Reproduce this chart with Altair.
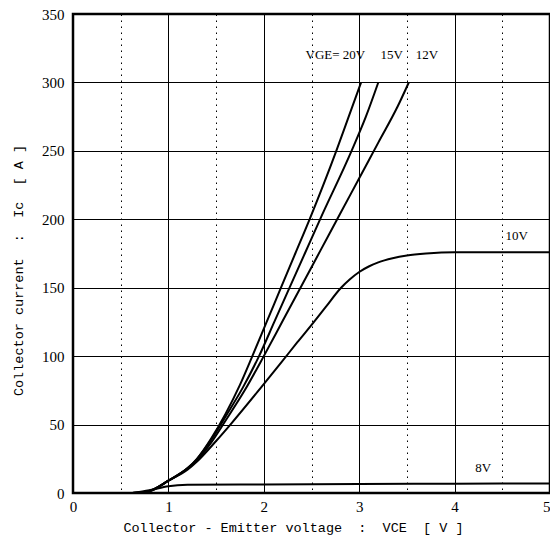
import altair as alt
import pandas as pd

# ---- data ----
v20 = [0.62, 0.8, 1.0, 1.2, 1.3, 1.45, 1.6, 1.75, 1.88, 2.03, 2.18, 2.33, 2.48, 2.76, 2.89, 3.02]
i20 = [0, 1.5, 9, 18, 25, 40, 58, 79, 100, 125, 150, 175, 200, 250, 275, 300]
v15 = [0.62, 0.8, 1.0, 1.2, 1.3, 1.45, 1.6, 1.78, 1.95, 2.11, 2.27, 2.43, 2.59, 2.92, 3.07, 3.2]
i15 = [0, 1.5, 9, 18, 25, 39, 56, 77, 100, 125, 150, 175, 200, 250, 275, 300]
v12 = [0.62, 0.8, 1.0, 1.2, 1.3, 1.45, 1.6, 1.8, 2.0, 2.2, 2.4, 2.6, 2.8, 3.0, 3.2, 3.4, 3.52]
i12 = [0, 1.5, 9, 18, 24, 37, 53, 75, 100, 126, 152, 178, 204, 230, 256, 282, 300]
v10 = [0.62, 0.8, 1.0, 1.2, 1.3, 1.5, 1.65, 1.97, 2.19, 2.35, 2.52, 2.65, 2.81, 2.9, 3.0,
       3.1, 3.2, 3.35, 3.5, 3.7, 4.0, 5.0]
i10 = [0, 1.5, 9, 17, 23, 38, 50, 77, 96, 110, 124.5, 136, 150, 156, 161.5,
       165.5, 168.5, 171.5, 173.5, 175, 176, 176]
v8 = [0.62, 0.8, 1.0, 1.2, 2.0, 3.0, 4.0, 5.0]
i8 = [0, 2, 5, 6, 6.3, 6.6, 6.8, 7]

label_text = ["VGE= 20V", "15V", "12V", "10V", "8V"]
label_v = [2.75, 3.34, 3.71, 4.65, 4.30]
label_i = [320, 320, 320, 188, 18]

x_ticks = [0, 0.5, 1, 1.5, 2, 2.5, 3, 3.5, 4, 4.5, 5]
y_ticks = [0, 25, 50, 75, 100, 125, 150, 175, 200, 225, 250, 275, 300, 325, 350]

rows = []
for name, vs, iis in [("20V", v20, i20), ("15V", v15, i15), ("12V", v12, i12),
                      ("10V", v10, i10), ("8V", v8, i8)]:
    for k, (a, b) in enumerate(zip(vs, iis)):
        rows.append({"series": name, "v": a, "i": b, "order": k})
df = pd.DataFrame(rows)
lab = pd.DataFrame({"text": label_text, "v": label_v, "i": label_i})

NB = "\u00a0"
xtitle = f"Collector{NB}-{NB}Emitter{NB}voltage{NB}{NB}:{NB}{NB}VCE{NB}{NB}[{NB}V{NB}]"
ytitle = f"Collector{NB}current{NB}{NB}:{NB}{NB}Ic{NB}{NB}[{NB}A{NB}]"

dotted = [1.5, 4.5]
xscale = alt.Scale(domain=[0, 5], nice=False)
yscale = alt.Scale(domain=[0, 350], nice=False)

xaxis = alt.Axis(
    values=x_ticks,
    labelExpr="datum.value % 1 ? '' : format(datum.value, 'd')",
    labelAlign={"condition": {"test": "datum.value >= 5", "value": "right"}, "value": "center"},
    grid=True,
    gridColor="#000000",
    gridWidth=1,
    gridDash={"condition": {"test": "datum.value % 1", "value": dotted}, "value": []},
    ticks=False,
    domain=False,
    labelFont="Liberation Serif",
    labelFontSize=15,
    labelColor="#000000",
    labelPadding=6,
    labelFlush=False,
    title=xtitle,
    titleFont="Liberation Mono",
    titleFontSize=13.5,
    titleFontWeight="normal",
    titleColor="#000000",
    titleX=220,
    titleY=34,
    titleBaseline="middle",
)
yaxis = alt.Axis(
    values=y_ticks,
    labelExpr="datum.value % 50 ? '' : datum.label",
    grid=True,
    gridColor="#000000",
    gridWidth=1,
    gridDash={"condition": {"test": "datum.value % 50", "value": dotted}, "value": []},
    ticks=False,
    domain=False,
    labelFont="Liberation Serif",
    labelFontSize=15,
    labelColor="#000000",
    labelPadding=9,
    labelFlush=False,
    title=ytitle,
    titleFont="Liberation Mono",
    titleFontSize=13.5,
    titleFontWeight="normal",
    titleColor="#000000",
    titleAngle=270,
    titleX=-55,
    titleY=256,
    titleBaseline="middle",
    titleAlign="center",
)

lines = alt.Chart(df).mark_line(color="#000000", strokeWidth=2, interpolate="monotone", clip=True).encode(
    x=alt.X("v:Q", scale=xscale, axis=xaxis),
    y=alt.Y("i:Q", scale=yscale, axis=yaxis),
    detail="series:N",
    order="order:Q",
)

texts = alt.Chart(lab).mark_text(font="Liberation Serif", fontSize=13, color="#000000").encode(
    x=alt.X("v:Q", scale=xscale),
    y=alt.Y("i:Q", scale=yscale),
    text="text:N",
)

chart = (lines + texts).properties(
    width=477,
    height=479,
    autosize=alt.AutoSizeParams(type="none"),
    padding={"left": 65, "top": 6, "right": 0, "bottom": 45},
    background="#ffffff",
).configure_view(stroke="#000000", strokeWidth=2.5)

chart.save("out.html", embed_options={"renderer": "svg", "actions": False})
